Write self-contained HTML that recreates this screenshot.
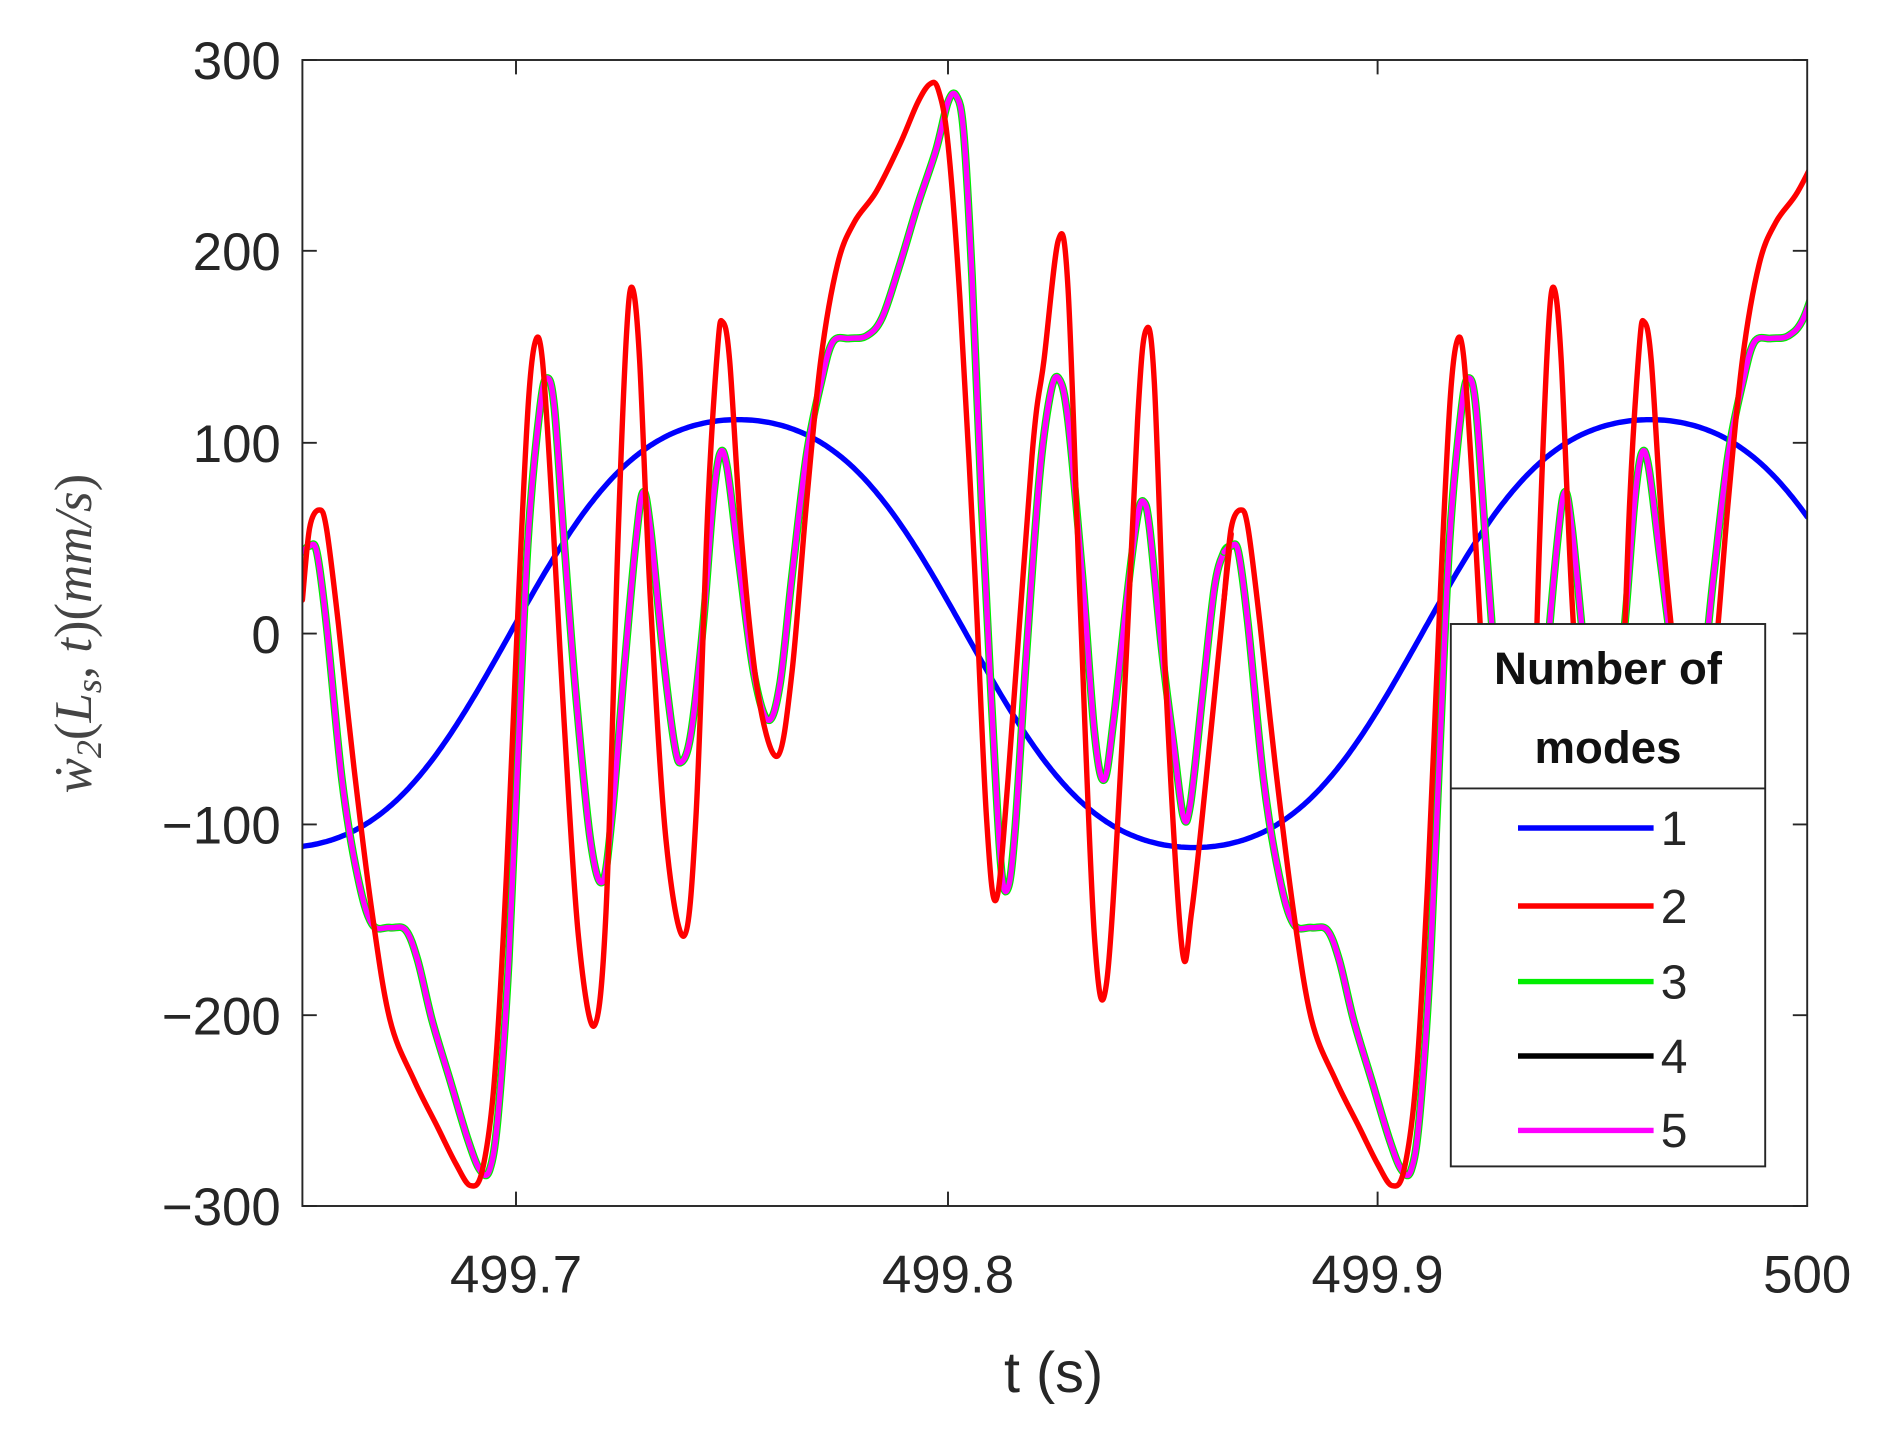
<!DOCTYPE html>
<html><head><meta charset="utf-8"><style>
html,body{margin:0;padding:0;background:#fff;}
svg{display:block;}
</style></head><body>
<svg width="1880" height="1436" viewBox="0 0 1880 1436" xmlns="http://www.w3.org/2000/svg">
<g transform="scale(1.2)">
<defs><clipPath id="c"><rect x="252" y="50" width="1254" height="955"/></clipPath></defs>
<rect x="252" y="50" width="1254" height="955" fill="#fff"/>
<g clip-path="url(#c)" fill="none" stroke-linejoin="round" stroke-linecap="round">
<path id="blue" stroke="#0000ff" stroke-width="4.5" d=""/>
<g id="g1">
<path id="gr" stroke="#00ee00" stroke-width="6.5" d=""/>
<path id="mg" stroke="#ff00ff" stroke-width="4.5" d=""/>
<path id="rd" stroke="#ff0000" stroke-width="4.5" d=""/>
</g>
<use href="#g1" transform="translate(768,0)"/>
</g>
<g stroke="#262626" stroke-width="1.6" fill="none">
<rect x="252" y="50" width="1254" height="955"/>
<path d="M252,50h12M252,209h12M252,369h12M252,528h12M252,687h12M252,846h12M252,1005h12
M1506,50h-12M1506,209h-12M1506,369h-12M1506,528h-12M1506,687h-12M1506,846h-12M1506,1005h-12
M430,1005v-12M790,1005v-12M1148,1005v-12M430,50v12M790,50v12M1148,50v12"/>
</g>
<g font-family="Liberation Sans, sans-serif" font-size="44" fill="#262626">
<g text-anchor="end">
<text x="234" y="66">300</text><text x="234" y="225">200</text><text x="234" y="385">100</text>
<text x="234" y="544">0</text><text x="234" y="703">−100</text><text x="234" y="862">−200</text><text x="234" y="1021">−300</text>
</g>
<g text-anchor="middle">
<text x="430" y="1077">499.7</text><text x="790" y="1077">499.8</text><text x="1148" y="1077">499.9</text><text x="1506" y="1077">500</text>
<text x="878" y="1160" font-size="48">t (s)</text>
</g>
</g>
<text transform="translate(76,528) rotate(-90)" text-anchor="middle" font-family="Liberation Serif, serif" font-style="italic" font-size="44" fill="#444">ẇ<tspan font-size="30" dy="8">2</tspan><tspan dy="-8" font-style="normal">(</tspan>L<tspan font-size="30" dy="8">s</tspan><tspan dy="-8" font-style="normal">, </tspan>t<tspan font-style="normal">)(</tspan>mm/s<tspan font-style="normal">)</tspan></text>
<rect x="1209" y="520" width="262" height="452" fill="#fff" stroke="#262626" stroke-width="1.6"/>
<line x1="1209" y1="657" x2="1471" y2="657" stroke="#262626" stroke-width="1.6"/>
<g font-family="Liberation Sans, sans-serif" font-size="38" font-weight="bold" text-anchor="middle" fill="#111">
<text x="1340" y="570">Number of</text><text x="1340" y="636">modes</text>
</g>
<g stroke-width="4.5">
<line x1="1265" y1="690" x2="1378" y2="690" stroke="#0000ff"/>
<line x1="1265" y1="755" x2="1378" y2="755" stroke="#ff0000"/>
<line x1="1265" y1="818" x2="1378" y2="818" stroke="#00ee00"/>
<line x1="1265" y1="880" x2="1378" y2="880" stroke="#000"/>
<line x1="1265" y1="942" x2="1378" y2="942" stroke="#ff00ff"/>
</g>
<g font-family="Liberation Sans, sans-serif" font-size="40" fill="#262626">
<text x="1384" y="704">1</text><text x="1384" y="769">2</text><text x="1384" y="832">3</text><text x="1384" y="894">4</text><text x="1384" y="956">5</text>
</g>
</g>
</svg>
<script>
(function(){
var M=[252,460,258,455,264,460,272,520,285,650,298,730,310,770,325,773,338,775,348,800,360,850,375,900,390,950,400,975,408,975,415,930,424,800,432,620,440,450,450,340,456,315,462,340,470,450,480,580,492,700,502,735,510,680,520,560,530,450,536,410,542,440,552,540,562,620,568,635,576,610,586,520,594,420,600,378,606,390,616,470,628,560,640,600,650,570,660,480,672,380,684,320,694,285,708,282,722,280,735,265,750,220,765,170,780,125,790,85,797,80,803,110,810,230,818,420,826,580,834,720,840,740,846,690,855,550,866,400,875,330,882,315,890,350,902,480,912,610,920,650,928,600,940,490,948,430,953,418,958,440,968,540,978,620,986,680,992,670,1002,580,1012,490,1020,460,1026,455];
var R=[252,500,258,440,266,425,272,440,282,520,295,640,310,760,325,850,345,900,365,940,380,970,392,988,402,975,412,900,422,730,432,500,440,340,446,285,452,300,460,420,470,600,482,780,495,855,505,760,515,450,522,280,527,240,533,300,542,500,555,700,570,780,580,680,590,420,598,290,602,268,608,300,618,450,632,580,648,630,660,560,672,420,684,300,698,220,712,185,730,160,750,120,765,85,775,70,782,75,790,120,800,250,812,470,822,680,830,750,840,650,860,380,870,300,882,200,890,240,900,500,912,780,922,820,935,620,948,350,955,275,962,320,972,580,985,790,993,760,1005,650,1020,500,1026,445];
function cr(a){var p=[];for(var i=0;i<a.length;i+=2)p.push([a[i],a[i+1]]);var d="M"+p[0][0]+","+p[0][1];
for(var i=0;i<p.length-1;i++){var p0=p[i-1]||p[i],p1=p[i],p2=p[i+1],p3=p[i+2]||p2;
var c1x=p1[0]+(p2[0]-p0[0])/6,c1y=p1[1]+(p2[1]-p0[1])/6,c2x=p2[0]-(p3[0]-p1[0])/6,c2y=p2[1]-(p3[1]-p1[1])/6;
d+="C"+c1x.toFixed(1)+","+c1y.toFixed(1)+" "+c2x.toFixed(1)+","+c2y.toFixed(1)+" "+p2[0]+","+p2[1];}return d;}
var md=cr(M);document.getElementById("gr").setAttribute("d",md);document.getElementById("mg").setAttribute("d",md);
document.getElementById("rd").setAttribute("d",cr(R));
var d="";for(var x=252;x<=1506;x+=2){var t=2*Math.PI*(x-425)/760;var v=112/0.95*(Math.sin(t)+0.05*Math.sin(3*t));d+=(x==252?"M":"L")+x+","+(528-v*1.592).toFixed(1);}
document.getElementById("blue").setAttribute("d",d);})();
</script>
</body></html>
